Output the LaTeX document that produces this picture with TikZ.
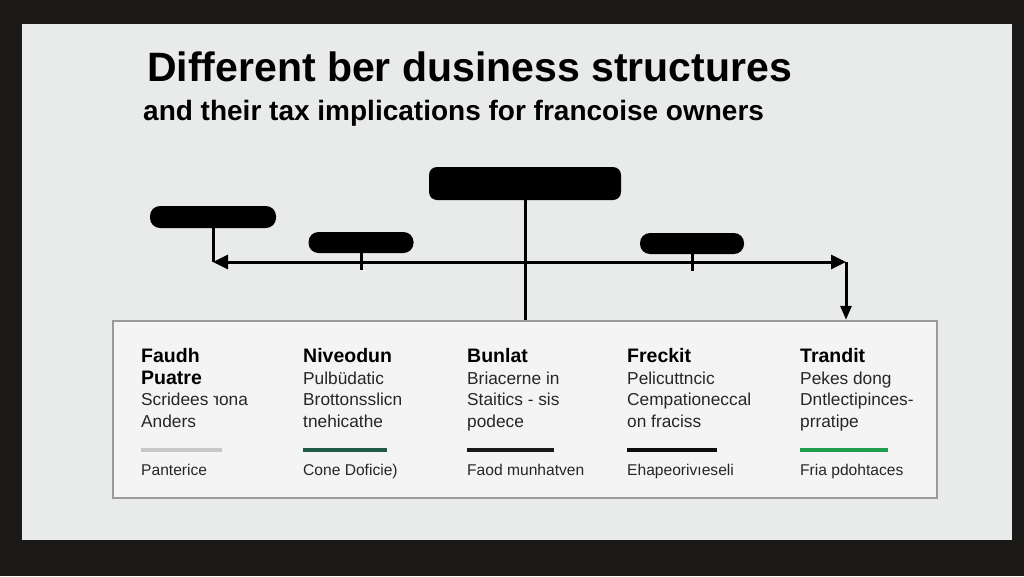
\documentclass[tikz,border=0pt]{standalone}
\usepackage{fontspec}
\setmainfont{Liberation Sans}
\usetikzlibrary{arrows.meta}
\definecolor{bezel}{HTML}{1B1917}
\definecolor{screen}{HTML}{E9EAEA}
\definecolor{frame}{HTML}{9A9A9A}
\definecolor{barlight}{HTML}{C8C8C8}
\definecolor{bardeep}{HTML}{1D5A48}
\definecolor{bargreen}{HTML}{1F9E4E}
\tikzset{
  pill/.style={fill=black, inner sep=0pt, rounded corners=10pt},
  link/.style={draw=black, line width=3pt},
  colhead/.style={anchor=base west, inner sep=0pt, font=\fontsize{19.5}{22}\selectfont\bfseries},
  coltext/.style={anchor=base west, inner sep=0pt, font=\fontsize{17.3}{20}\selectfont, text=black!85},
  colfoot/.style={anchor=base west, inner sep=0pt, font=\fontsize{15.6}{18}\selectfont, text=black!85},
  bar/.style={anchor=west, inner sep=0pt, minimum height=4pt},
}

\begin{document}
\begin{tikzpicture}[x=1pt,y=-1pt]
  \useasboundingbox (0,0) rectangle (1024,576);
  \fill[bezel] (0,0) rectangle (1024,576);
  \fill[screen] (22,24) rectangle (1012,540);

  % heading
  \node[anchor=base west, inner sep=0pt, font=\fontsize{41}{46}\selectfont\bfseries] (title) at (147,81) {Different ber dusiness structures};
  \node[anchor=base west, inner sep=0pt, font=\fontsize{28}{32}\selectfont\bfseries] (subtitle) at (143,120) {and their tax implications for francoise owners};

  % boxes
  \node[pill, rounded corners=8pt, minimum width=192pt, minimum height=33pt] (owner) at (525,183.5) {};
  \node[pill, minimum width=126pt, minimum height=22pt] (faudhbox) at (213,217) {};
  \node[pill, minimum width=105pt, minimum height=21pt] (niveobox) at (361,242.5) {};
  \node[pill, minimum width=104pt, minimum height=21pt] (freckbox) at (692,243.5) {};

  \node[draw=frame, line width=2.5pt, fill=screen!50!white, inner sep=0pt,
        minimum width=824pt, minimum height=177pt] (panel) at (525,409.5) {};

  % connectors
  \coordinate (hl) at (faudhbox.south |- 0,262);
  \coordinate (hr) at (846,262);
  \draw[link] (faudhbox.south) -- (hl);
  \draw[link, {Triangle[length=15pt,width=14pt]}-{Triangle[length=15pt,width=14pt]}] (hl) -- (hr);
  \draw[link] (niveobox.south) -- ++(0,17);
  \draw[link] (freckbox.south) -- ++(0,17);
  \draw[link] (owner.south) -- (owner.south |- panel.north);
  \draw[link, -{Triangle[length=14pt,width=11pt]}] (hr) -- (hr |- panel.north);

  % column 1
  \node[colhead] (faudh) at (141,362) {Faudh};
  \node[colhead] (puatre) at (141,384) {Puatre};
  \node[coltext] (scridees) at (141,405) {Scridees \reflectbox{r}ona};
  \node[coltext] (anders) at (141,427) {Anders};
  \node[bar, fill=barlight, minimum width=81pt] (bar1) at (141,450) {};
  \node[colfoot] (panterice) at (141,475) {Panterice};

  % column 2
  \node[colhead] (niveodun) at (303,362) {Niveodun};
  \node[coltext] (pulbudatic) at (303,384) {Pulbüdatic};
  \node[coltext] (brottons) at (303,405) {Brottonsslicn};
  \node[coltext] (tnehi) at (303,427) {tnehicathe};
  \node[bar, fill=bardeep, minimum width=84pt] (bar2) at (303,450) {};
  \node[colfoot] (cone) at (303,475) {Cone Doficie)};

  % column 3
  \node[colhead] (bunlat) at (467,362) {Bunlat};
  \node[coltext] (briacerne) at (467,384) {Briacerne in};
  \node[coltext] (staitics) at (467,405) {Staitics - sis};
  \node[coltext] (podece) at (467,427) {podece};
  \node[bar, fill=black!90, minimum width=87pt] (bar3) at (467,450) {};
  \node[colfoot] (faod) at (467,475) {Faod munhatven};

  % column 4
  \node[colhead] (freckit) at (627,362) {Freckit};
  \node[coltext] (pelicut) at (627,384) {Pelicuttncic};
  \node[coltext] (cempation) at (627,405) {Cempationeccal};
  \node[coltext] (fraciss) at (627,427) {on fraciss};
  \node[bar, fill=black!95, minimum width=90pt] (bar4) at (627,450) {};
  \node[colfoot] (ehape) at (627,475) {Ehapeorivıeseli};

  % column 5
  \node[colhead] (trandit) at (800,362) {Trandit};
  \node[coltext] (pekes) at (800,384) {Pekes dong};
  \node[coltext] (dntlect) at (800,405) {Dntlectipinces-};
  \node[coltext] (prratipe) at (800,427) {prratipe};
  \node[bar, fill=bargreen, minimum width=88pt] (bar5) at (800,450) {};
  \node[colfoot] (fria) at (800,475) {Fria pdohtaces};
\end{tikzpicture}
\end{document}
